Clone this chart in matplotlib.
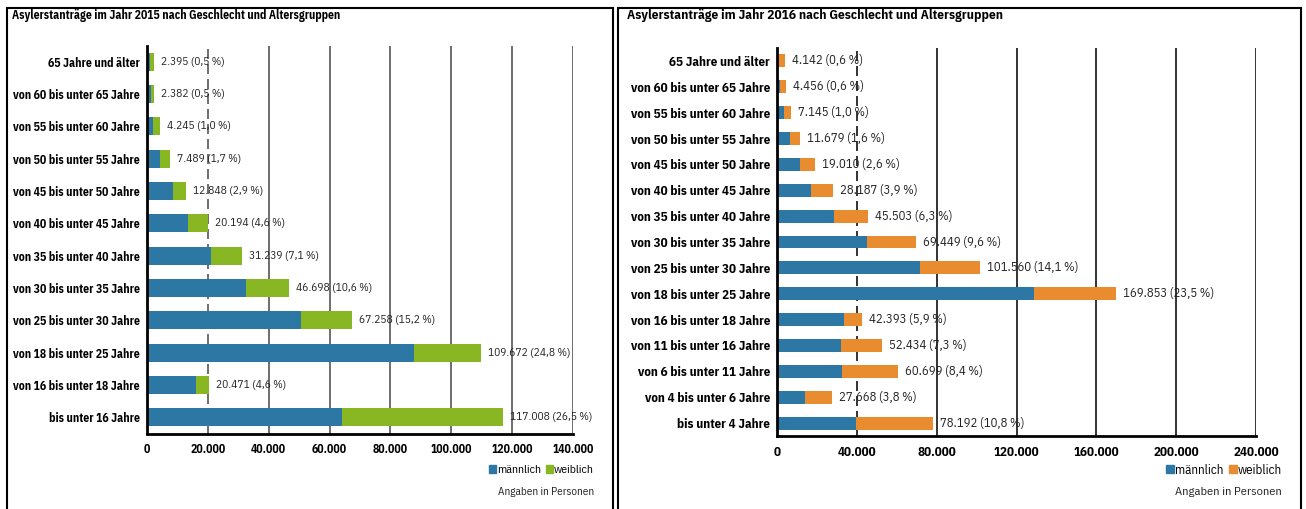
import matplotlib
matplotlib.use('Agg')
import matplotlib.pyplot as plt
from matplotlib.patches import Rectangle, Patch

plt.rcParams['font.family'] = ['IBM Plex Sans Condensed', 'DejaVu Sans']

# 2015
groups_2015 = ['65 Jahre und älter', 'von 60 bis unter 65 Jahre', 'von 55 bis unter 60 Jahre',
               'von 50 bis unter 55 Jahre', 'von 45 bis unter 50 Jahre', 'von 40 bis unter 45 Jahre',
               'von 35 bis unter 40 Jahre', 'von 30 bis unter 35 Jahre', 'von 25 bis unter 30 Jahre',
               'von 18 bis unter 25 Jahre', 'von 16 bis unter 18 Jahre', 'bis unter 16 Jahre']
total_2015 = [2395, 2382, 4245, 7489, 12848, 20194, 31239, 46698, 67258, 109672, 20471, 117008]
male_2015 = [1100, 1200, 2100, 4400, 8400, 13400, 20900, 32600, 50600, 87900, 16100, 64200]
pct_2015 = [0.5, 0.5, 1.0, 1.7, 2.9, 4.6, 7.1, 10.6, 15.2, 24.8, 4.6, 26.5]

# 2016
groups_2016 = ['65 Jahre und älter', 'von 60 bis unter 65 Jahre', 'von 55 bis unter 60 Jahre',
               'von 50 bis unter 55 Jahre', 'von 45 bis unter 50 Jahre', 'von 40 bis unter 45 Jahre',
               'von 35 bis unter 40 Jahre', 'von 30 bis unter 35 Jahre', 'von 25 bis unter 30 Jahre',
               'von 18 bis unter 25 Jahre', 'von 16 bis unter 18 Jahre', 'von 11 bis unter 16 Jahre',
               'von 6 bis unter 11 Jahre', 'von 4 bis unter 6 Jahre', 'bis unter 4 Jahre']
total_2016 = [4142, 4456, 7145, 11679, 19010, 28187, 45503, 69449, 101560, 169853, 42393, 52434,
              60699, 27668, 78192]
male_2016 = [700, 1550, 3300, 6400, 11300, 17200, 28500, 45000, 71500, 128900, 33800, 32000,
             32500, 14100, 39700]
pct_2016 = [0.6, 0.6, 1.0, 1.6, 2.6, 3.9, 6.3, 9.6, 14.1, 23.5, 5.9, 7.3, 8.4, 3.8, 10.8]

blue = '#2c77a3'
green = '#89b623'
orange = '#e98c2f'

W, H = 1306, 509
fig = plt.figure(figsize=(W / 100, H / 100), dpi=100)


def px(x0, y0, x1, y1):
    return [x0 / W, 1 - y1 / H, (x1 - x0) / W, (y1 - y0) / H]


def de(n):
    return '{:,}'.format(n).replace(',', '.')


def panel(rect, groups, total, male, pct, fcol, xmax, step, bar_h, gridcol, title, tx, lx, fs, tfs):
    ax = fig.add_axes(rect)
    y = list(range(len(groups)))
    female = [t - m for t, m in zip(total, male)]
    ax.barh(y, male, height=bar_h, color=blue, zorder=3)
    ax.barh(y, female, left=male, height=bar_h, color=fcol, zorder=3)
    for yi, t, p in zip(y, total, pct):
        lab = '{} ({} %)'.format(de(t), '{:.1f}'.format(p).replace('.', ','))
        ax.annotate(lab, (t, yi), xytext=(5, 0), textcoords='offset points',
                    va='center', ha='left', fontsize=fs - 0.3, color='#222222', zorder=4)
    ax.set_ylim(len(groups) - 0.5, -0.5)
    ax.set_xlim(0, xmax)
    ticks = list(range(0, xmax + 1, step))
    ax.set_xticks(ticks)
    ax.set_xticklabels([de(t) for t in ticks], fontweight='bold', fontsize=fs)
    ax.set_yticks(y)
    ax.set_yticklabels(groups, fontweight='bold', fontsize=fs)
    ax.tick_params(length=0, axis='y', pad=5)
    ax.tick_params(length=0, axis='x', pad=7)
    for i, t in enumerate(ticks[1:]):
        ax.axvline(t, color=gridcol, lw=1.2, ls=(0, (6, 3)) if i == 0 else '-', zorder=1)
    for s in ['top', 'right']:
        ax.spines[s].set_visible(False)
    ax.spines['left'].set_linewidth(2)
    ax.spines['bottom'].set_linewidth(2)
    ax.spines['left'].set_zorder(5)
    fig.text(tx / W, 1 - 16 / H, title, fontweight='bold', fontsize=tfs, va='center', ha='left')
    fig.legend(handles=[Patch(color=blue, label='männlich'), Patch(color=fcol, label='weiblich')],
               loc='center right', bbox_to_anchor=(lx / W, 1 - 470 / H), ncol=2, frameon=False,
               handlelength=0.6, handleheight=0.6, handletextpad=0.1, columnspacing=0.4,
               fontsize=fs, borderpad=0, borderaxespad=0)
    fig.text(lx / W, 1 - 492 / H, 'Angaben in Personen', fontsize=fs - 0.5, va='center', ha='right',
             color='#222222')
    return ax


panel(px(147, 45.5, 573, 433.5), groups_2015, total_2015, male_2015, pct_2015, green,
      140000, 20000, 0.55, '#555555',
      'Asylerstanträge im Jahr 2015 nach Geschlecht und Altersgruppen', 12, 594, 8.5, 8.4)
panel(px(777, 48, 1256, 436), groups_2016, total_2016, male_2016, pct_2016, orange,
      240000, 40000, 0.5, '#111111',
      'Asylerstanträge im Jahr 2016 nach Geschlecht und Altersgruppen', 627, 1282, 9.4, 9.6)

# frames around both panels
fig.patches.append(Rectangle((7 / W, -0.05), (613 - 7) / W, 1 - 8 / H + 0.05, transform=fig.transFigure,
                             fill=False, edgecolor='black', lw=1.5))
fig.patches.append(Rectangle((618 / W, -0.05), (1301 - 618) / W, 1 - 8 / H + 0.05,
                             transform=fig.transFigure, fill=False, edgecolor='black', lw=1.5))

fig.savefig('out.png', dpi=100, facecolor='white')
